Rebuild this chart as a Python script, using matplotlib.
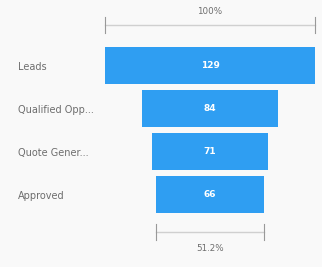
import matplotlib
matplotlib.use("Agg")
import matplotlib.pyplot as plt

stages = ["Leads", "Qualified Opp...", "Quote Gener...", "Approved"]
values = [129, 84, 71, 66]
top_label = "100%"
bottom_label = "51.2%"

W, H = 322, 267
fig = plt.figure(figsize=(W / 100, H / 100), dpi=100)
fig.patch.set_facecolor("#f9f9f9")
ax = fig.add_axes([0, 0, 1, 1])
ax.set_facecolor("#f9f9f9")
ax.axis("off")

pxu = 1.628
cx = 210
ax.set_xlim(-cx / pxu, (W - cx) / pxu)
row0, sp = 65.5, 43
ax.set_ylim((H - row0) / sp, -row0 / sp)

bar_color = "#2f9ef2"
ys = list(range(len(values)))
lefts = [-v / 2 for v in values]
ax.barh(ys, values, left=lefts, height=0.88, color=bar_color)

for y, v, s in zip(ys, values, stages):
    ax.text(0, y, str(v), ha="center", va="center", color="white",
            fontsize=6.5, fontweight="bold")
    ax.text((18 - cx) / pxu, y + 0.03, s, ha="left", va="center", color="#6e6e6e",
            fontsize=7)

tick = 0.19
yt = (25 - row0) / sp
ax.plot([-values[0] / 2, values[0] / 2], [yt, yt], color="#d0d0d0", lw=1)
for xx in (-values[0] / 2, values[0] / 2):
    ax.plot([xx, xx], [yt - tick, yt + tick], color="#999999", lw=0.8)
ax.text(0, (12 - row0) / sp, top_label, ha="center", va="center",
        color="#6e6e6e", fontsize=6.3)

yb = (232 - row0) / sp
ax.plot([-values[-1] / 2, values[-1] / 2], [yb, yb], color="#d0d0d0", lw=1)
for xx in (-values[-1] / 2, values[-1] / 2):
    ax.plot([xx, xx], [yb - tick, yb + tick], color="#999999", lw=0.8)
ax.text(0, (249 - row0) / sp, bottom_label, ha="center", va="center",
        color="#6e6e6e", fontsize=6.3)

fig.savefig("out.png", dpi=100, facecolor=fig.get_facecolor())
